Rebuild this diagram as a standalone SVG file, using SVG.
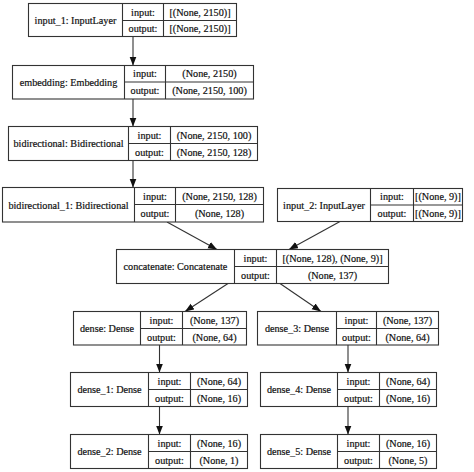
<svg xmlns="http://www.w3.org/2000/svg" width="474" height="472" viewBox="0 0 474 472">
<style>
rect{fill:#fff;stroke:#333;stroke-width:1.1}
.l{stroke:#333;stroke-width:1.1}
text{font-family:'Liberation Serif','Times New Roman',serif;font-size:10.2px;fill:#111;stroke:#111;stroke-width:0.2;text-anchor:middle}
.e{stroke:#333;stroke-width:1.1;fill:none;marker-end:url(#ah)}
</style>
<defs>
<marker id="ah" markerUnits="userSpaceOnUse" markerWidth="10" markerHeight="8" refX="9" refY="3.5" orient="auto"><path d="M0,0 L9,3.5 L0,7 z" fill="#111"/></marker>
</defs>
<rect x="0" y="0" width="474" height="472" style="stroke:none"/>
<g id="edges">
<path class="e" d="M133,36.5 L133,65.5"/>
<path class="e" d="M133,99 L133,126.5"/>
<path class="e" d="M133,160.5 L133,187.5"/>
<path class="e" d="M167,222 L217,249.5"/>
<path class="e" d="M340,221.5 L289,249.5"/>
<path class="e" d="M228,283.5 L185,311.5"/>
<path class="e" d="M280,283.5 L321,311.5"/>
<path class="e" d="M159.5,345 L159.5,372.5"/>
<path class="e" d="M159.5,406.5 L159.5,434.5"/>
<path class="e" d="M348,345 L348,372.5"/>
<path class="e" d="M348,406.5 L348,434.5"/>
</g>
<g id="input_1">
<rect x="28.5" y="3.5" width="208" height="33"/>
<path class="l" d="M122.5,3.5V36.5M163.5,3.5V36.5M122.5,20.5H236.5"/>
<text x="75.5" y="23.5">input_1: InputLayer</text>
<text x="143" y="15.5">input:</text><text x="143" y="32">output:</text>
<text x="200" y="15.5">[(None, 2150)]</text><text x="200" y="32">[(None, 2150)]</text>
</g>
<g id="embedding">
<rect x="12.5" y="65.5" width="241" height="33.5"/>
<path class="l" d="M124.5,65.5V99M165.5,65.5V99M124.5,82H253.5"/>
<text x="68.5" y="85.5">embedding: Embedding</text>
<text x="145" y="77">input:</text><text x="145" y="94">output:</text>
<text x="209.5" y="77">(None, 2150)</text><text x="209.5" y="94">(None, 2150, 100)</text>
</g>
<g id="bidirectional">
<rect x="8.5" y="126.5" width="249" height="34"/>
<path class="l" d="M128.5,126.5V160.5M170.5,126.5V160.5M128.5,143.5H257.5"/>
<text x="68.5" y="147">bidirectional: Bidirectional</text>
<text x="149.5" y="138.5">input:</text><text x="149.5" y="155.5">output:</text>
<text x="214" y="138.5">(None, 2150, 100)</text><text x="214" y="155.5">(None, 2150, 128)</text>
</g>
<g id="bidirectional_1">
<rect x="2.5" y="187.5" width="261" height="34.5"/>
<path class="l" d="M134.5,187.5V222M175.5,187.5V222M134.5,204.5H263.5"/>
<text x="68.5" y="208.5">bidirectional_1: Bidirectional</text>
<text x="155" y="199.5">input:</text><text x="155" y="216.5">output:</text>
<text x="219.5" y="199.5">(None, 2150, 128)</text><text x="219.5" y="216.5">(None, 128)</text>
</g>
<g id="input_2">
<rect x="277.5" y="188.5" width="185" height="33"/>
<path class="l" d="M370.5,188.5V221.5M413.5,188.5V221.5M370.5,205H462.5"/>
<text x="324" y="208.5">input_2: InputLayer</text>
<text x="392" y="200">input:</text><text x="392" y="216.5">output:</text>
<text x="438" y="200">[(None, 9)]</text><text x="438" y="216.5">[(None, 9)]</text>
</g>
<g id="concatenate">
<rect x="116.5" y="249.5" width="272" height="34"/>
<path class="l" d="M234.5,249.5V283.5M276.5,249.5V283.5M234.5,266.5H388.5"/>
<text x="175.5" y="270">concatenate: Concatenate</text>
<text x="255.5" y="261.5">input:</text><text x="255.5" y="278.5">output:</text>
<text x="332.5" y="261.5">[(None, 128), (None, 9)]</text><text x="332.5" y="278.5">(None, 137)</text>
</g>
<g id="dense">
<rect x="73.5" y="311.5" width="173" height="33.5"/>
<path class="l" d="M140.5,311.5V345M182.5,311.5V345M140.5,328.5H246.5"/>
<text x="107" y="332">dense: Dense</text>
<text x="161.5" y="323.5">input:</text><text x="161.5" y="340.5">output:</text>
<text x="214.5" y="323.5">(None, 137)</text><text x="214.5" y="340.5">(None, 64)</text>
</g>
<g id="dense_3">
<rect x="257.5" y="311.5" width="181" height="33.5"/>
<path class="l" d="M336.5,311.5V345M376.5,311.5V345M336.5,328.5H438.5"/>
<text x="297" y="332">dense_3: Dense</text>
<text x="356.5" y="323.5">input:</text><text x="356.5" y="340.5">output:</text>
<text x="407.5" y="323.5">(None, 137)</text><text x="407.5" y="340.5">(None, 64)</text>
</g>
<g id="dense_1">
<rect x="70.5" y="372.5" width="177" height="34"/>
<path class="l" d="M148.5,372.5V406.5M190.5,372.5V406.5M148.5,389.5H247.5"/>
<text x="109.5" y="393">dense_1: Dense</text>
<text x="169.5" y="384.5">input:</text><text x="169.5" y="401.5">output:</text>
<text x="219" y="384.5">(None, 64)</text><text x="219" y="401.5">(None, 16)</text>
</g>
<g id="dense_4">
<rect x="260.5" y="372.5" width="176" height="34"/>
<path class="l" d="M337.5,372.5V406.5M379.5,372.5V406.5M337.5,389.5H436.5"/>
<text x="299" y="393">dense_4: Dense</text>
<text x="358.5" y="384.5">input:</text><text x="358.5" y="401.5">output:</text>
<text x="408" y="384.5">(None, 64)</text><text x="408" y="401.5">(None, 16)</text>
</g>
<g id="dense_2">
<rect x="70.5" y="434.5" width="177" height="34"/>
<path class="l" d="M148.5,434.5V468.5M190.5,434.5V468.5M148.5,451.5H247.5"/>
<text x="109.5" y="455">dense_2: Dense</text>
<text x="169.5" y="446.5">input:</text><text x="169.5" y="463.5">output:</text>
<text x="219" y="446.5">(None, 16)</text><text x="219" y="463.5">(None, 1)</text>
</g>
<g id="dense_5">
<rect x="260.5" y="434.5" width="176" height="34"/>
<path class="l" d="M337.5,434.5V468.5M379.5,434.5V468.5M337.5,451.5H436.5"/>
<text x="299" y="455">dense_5: Dense</text>
<text x="358.5" y="446.5">input:</text><text x="358.5" y="463.5">output:</text>
<text x="408" y="446.5">(None, 16)</text><text x="408" y="463.5">(None, 5)</text>
</g>
</svg>
